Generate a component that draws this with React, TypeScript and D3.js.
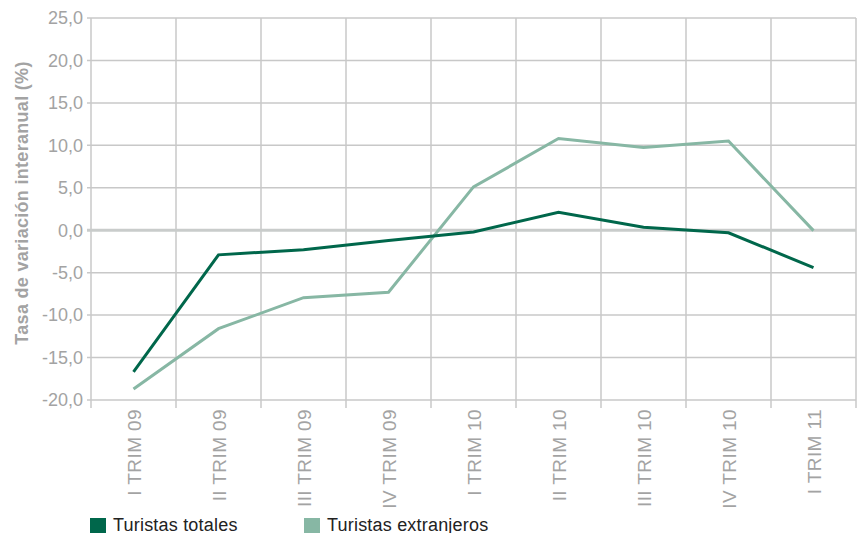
import React from "react";
import * as d3 from "d3";

const categories = ["I TRIM 09", "II TRIM 09", "III TRIM 09", "IV TRIM 09", "I TRIM 10", "II TRIM 10", "III TRIM 10", "IV TRIM 10", "I TRIM 11"];
const totales = [-16.7, -2.9, -2.3, -1.2, -0.2, 2.1, 0.35, -0.3, -4.4];
const extranjeros = [-18.7, -11.6, -7.95, -7.3, 5.1, 10.8, 9.75, 10.5, -0.05];
const yTicks = [25, 20, 15, 10, 5, 0, -5, -10, -15, -20];
const seriesNames = ["Turistas totales", "Turistas extranjeros"];
const colors = ["#00674b", "#87b7a4"];

const W = 858, H = 533;
const left = 91, right = 856, top = 18, bottom = 400;

export default function App() {
  const x = d3.scaleBand<string>().domain(categories).range([left, right]);
  const y = d3.scaleLinear().domain([-20, 25]).range([bottom, top]);
  const line = d3.line<number>()
    .x((_, i) => (x(categories[i]) as number) + x.bandwidth() / 2)
    .y((d) => y(d));
  const fmt = (v: number) => v.toFixed(1).replace(".", ",");
  const grid = "#c8c8c8";
  const boundaries = categories.map((c) => x(c) as number).concat([right]);
  return (
    <svg width={W} height={H} style={{ position: "absolute", left: 0, top: 0 }} fontFamily="Liberation Sans, Arial, sans-serif">
      {yTicks.filter((t) => t !== 0).map((t) => (
        <line key={"h" + t} x1={left - 4} x2={right} y1={y(t)} y2={y(t)} stroke={grid} strokeWidth={1.5} />
      ))}
      {boundaries.map((bx, i) => (
        <line key={"v" + i} x1={bx} x2={bx} y1={top} y2={bottom + 8} stroke={grid} strokeWidth={1.5} />
      ))}
      <line x1={left - 4} x2={right} y1={y(0)} y2={y(0)} stroke="#c9cccb" strokeWidth={3} />
      {yTicks.map((t) => (
        <text key={"t" + t} x={83} y={y(t)} dy="0.35em" textAnchor="end" fontSize={18} fill="#a3a3a3">{fmt(t)}</text>
      ))}
      {categories.map((c) => {
        const cx = (x(c) as number) + x.bandwidth() / 2;
        return (
          <text key={c} transform={`translate(${cx + 7},409) rotate(-90)`} textAnchor="end" fontSize={19} letterSpacing={0.4} fill="#a3a3a3">{c}</text>
        );
      })}
      <text transform={`translate(28,203) rotate(-90)`} textAnchor="middle" fontSize={18} fontWeight="bold" letterSpacing={0.3} fill="#a3a3a3">Tasa de variación interanual (%)</text>
      <path d={line(extranjeros) || ""} fill="none" stroke={colors[1]} strokeWidth={3} />
      <path d={line(totales) || ""} fill="none" stroke={colors[0]} strokeWidth={3} />
      {seriesNames.map((n, i) => {
        const lx = i === 0 ? 90 : 304;
        return (
          <g key={n}>
            <rect x={lx} y={518} width={16} height={16} fill={colors[i]} />
            <text x={lx + 23} y={531} fontSize={18} letterSpacing={0.2} fill="#222">{n}</text>
          </g>
        );
      })}
    </svg>
  );
}
